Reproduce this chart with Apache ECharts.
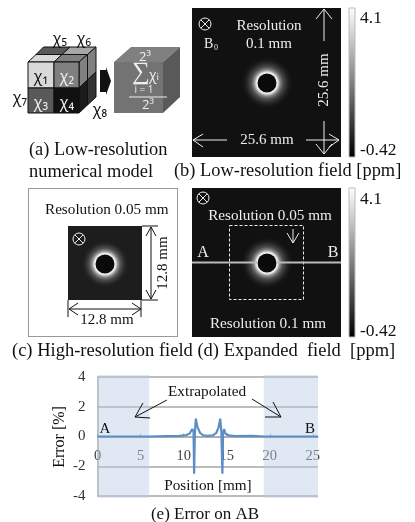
<!DOCTYPE html>
<html><head><meta charset="utf-8">
<style>html,body{margin:0;padding:0;background:#fff}#c{width:415px;height:522px}</style>
<script src="https://cdn.jsdelivr.net/npm/echarts@6/dist/echarts.min.js"></script>
</head><body><div id="c"></div>
<script>
// Error on line AB
const positionMm = [0,2,4,6,8,9.5,10.3,10.7,11.0,11.15,11.22,11.3,11.42,11.6,11.9,12.3,12.8,13.4,13.8,14.05,14.25,14.38,14.5,14.58,14.7,14.85,15.2,16,18,19.4,21,23,25.6];
const errorPct   = [0,0,0,0,0.03,0.04,0.1,0.2,0.5,0.3,-2.5,0.2,1.2,0.65,0.25,0.08,0.04,0.08,0.25,0.6,1.2,0.3,-2.5,0.2,0.5,0.2,0.08,0.03,0.04,0,0,0,0];
const extrapolatedBands = [[0,6],[19.3,26.2]];
const yTicks = [-4,-2,0,2,4];
const xTickStep = 5;
// radial brightness of the field images
const haloStops = [[0.36,'#ffffff'],[0.42,'#e0e0e0'],[0.5,'#8a8a8a'],[0.62,'#4a4a4a'],[0.78,'#262626'],[1,'rgba(20,20,20,0)']];
const colorbarStops = [[0,'#ffffff'],[0.5,'#808080'],[1,'#000000']];

const SERIF='"Liberation Serif",serif', SANS='"Open Sans","DejaVu Sans",sans-serif';
const g=[];
function T(t,x,y,o={}){g.push({type:'text',x,y,rotation:o.rot||0,z:o.z||20,style:{text:t,fill:o.c||'#111',font:(o.s||16)+'px '+(o.f||SERIF),textAlign:o.a||'left',textVerticalAlign:'middle'}});}
function R(x,y,w,h,fill,o={}){g.push({type:'rect',z:o.z||5,shape:{x,y,width:w,height:h},style:{fill,stroke:o.st||null,lineWidth:o.lw||0,lineDash:o.dash||null}});}
function P(pts,fill,o={}){g.push({type:'polygon',z:o.z||6,shape:{points:pts},style:{fill,stroke:o.st||'#111',lineWidth:o.lw===undefined?1:o.lw}});}
function PL(pts,c,lw,o={}){g.push({type:'polyline',z:o.z||15,shape:{points:pts},style:{stroke:c,lineWidth:lw,fill:null,lineDash:o.dash||null}});}
function field(x,y,w,h,cx,cy,bg,R2){
  R(x,y,w,h,bg);
  g.push({type:'circle',z:6,shape:{cx,cy,r:R2},style:{fill:new echarts.graphic.RadialGradient(0.5,0.5,0.5,haloStops.map(s=>({offset:s[0],color:s[1]})))}});
  g.push({type:'circle',z:7,shape:{cx,cy,r:9.5},style:{fill:'#0a0a0a'}});
}
function otimes(cx,cy,c){
  g.push({type:'circle',z:16,shape:{cx,cy,r:6},style:{fill:null,stroke:c,lineWidth:1}});
  PL([[cx-4.2,cy-4.2],[cx+4.2,cy+4.2]],c,1,{z:16});PL([[cx-4.2,cy+4.2],[cx+4.2,cy-4.2]],c,1,{z:16});
}
function cbar(x,y,w,h){
  g.push({type:'rect',z:5,shape:{x,y,width:w,height:h},style:{stroke:'#bbb',lineWidth:1,fill:new echarts.graphic.LinearGradient(0,0,0,1,colorbarStops.map(s=>({offset:s[0],color:s[1]})))}});
}
function arrowHead(tx,ty,a,b,c,lw){PL([a,[tx,ty],b],c,lw);}

// ---- (a) cubes
const q=(a,b,c,d,f)=>P([a,b,c,d],f);
q([28,62],[54,62],[62,54.5],[36,54.5],'#d9d9d9');
q([54,62],[79,62],[87.5,54.5],[62,54.5],'#808080');
q([36,54.5],[62,54.5],[70,47],[43.5,47],'#595959');
q([62,54.5],[87.5,54.5],[96,47],[70,47],'#a6a6a6');
q([79,62],[87.5,54.5],[87.5,80],[79,88],'#808080');
q([87.5,54.5],[96,47],[96,72],[87.5,80],'#808080');
q([79,88],[87.5,80],[87.5,105],[79,113],'#1c1c1c');
q([87.5,80],[96,72],[96,97],[87.5,105],'#333');
R(28,62,26,26,'#d9d9d9',{st:'#111',lw:1,z:6});R(54,62,25,26,'#808080',{st:'#111',lw:1,z:6});
R(28,88,26,25,'#595959',{st:'#111',lw:1,z:6});R(54,88,25,25,'#111',{st:'#111',lw:1,z:6});
T('χ₁',41,77,{a:'center',f:SANS,s:16});T('χ₂',67,77,{a:'center',f:SANS,s:16,c:'#eee'});
T('χ₃',41,103,{a:'center',f:SANS,s:16,c:'#eee'});T('χ₄',67,103,{a:'center',f:SANS,s:16,c:'#eee'});
T('χ₅',60,39,{a:'center',f:SANS,s:16});T('χ₆',84,39,{a:'center',f:SANS,s:16});
T('χ₇',20,98,{a:'center',f:SANS,s:16});T('χ₈',100,110,{a:'center',f:SANS,s:16});
P([[100,70],[106,70],[106,67],[111,81],[106,95],[106,92],[100,92]],'#111',{lw:0});
P([[114,62],[163,62],[180,47],[131,47]],'#808080',{lw:0});
P([[163,62],[180,47],[180,97],[163,113]],'#595959',{lw:0});
R(114,62,49,51,'#737373',{z:6});
T('2³',145,57,{a:'center',f:SANS,s:13,c:'#eee'});
T('∑',141,72,{a:'center',f:SERIF,s:25,c:'#eee'});
T('χᵢ',154,76,{a:'center',f:SANS,s:14,c:'#eee'});
T('i = 1',144,90,{a:'center',f:SANS,s:10,c:'#eee'});
PL([[129,97],[167,97]],'#eee',1);
T('2³',148,105,{a:'center',f:SANS,s:13,c:'#eee'});
T('(a) Low-resolution',29,150,{s:18.4});
T('numerical model',29,172,{s:18.4});

// ---- (b)
field(192,8,149,149,267,83,'#111',26);
otimes(205,24,'#eee');
T('B',204,44,{c:'#eee',s:14});T('0',214,48,{c:'#eee',s:8});
T('Resolution',269,26,{a:'center',c:'#eee',s:15});T('0.1 mm',269,44,{a:'center',c:'#eee',s:15});
T('25.6 mm',324,80,{a:'center',c:'#eee',s:15,rot:Math.PI/2});
T('25.6 mm',267,140,{a:'center',c:'#eee',s:15});
PL([[324,9],[324,41]],'#eee',1);arrowHead(324,9,[316,19],[332,19],'#eee',1);
PL([[324,121],[324,154]],'#eee',1);arrowHead(324,154,[316,144],[332,144],'#eee',1);
PL([[193,140],[227,140]],'#eee',1);arrowHead(193,140,[203,134],[203,147],'#eee',1);
PL([[306,140],[339,140]],'#eee',1);arrowHead(339,140,[329,134],[329,147],'#eee',1);
cbar(349,8,6,149);
T('4.1',360,18,{s:17.5});T('-0.42',360,150,{s:17.5});
T('(b) Low-resolution field [ppm]',174,171,{s:18.4});

// ---- (c)
g.push({type:'rect',z:4,shape:{x:28.5,y:188.5,width:149,height:148},style:{fill:null,stroke:'#333',lineWidth:1,lineDash:[1,1]}});
T('Resolution 0.05 mm',45,210,{s:15.2});
field(68,226,74,74,105,264,'#1d1d1d',26);
otimes(79,239,'#eee');
PL([[142,226],[158,226]],'#111',1);PL([[142,300],[158,300]],'#111',1);
PL([[151,227],[151,299]],'#111',1);arrowHead(151,227,[146,236],[156,236],'#111',1);arrowHead(151,299,[146,290],[156,290],'#111',1);
T('12.8 mm',163,263,{a:'center',s:15,rot:Math.PI/2});
PL([[68,300],[68,317]],'#111',1);PL([[141,300],[141,317]],'#111',1);
PL([[69,309],[141,309]],'#111',1);arrowHead(69,309,[78,303],[78,315],'#111',1);arrowHead(141,309,[132,303],[132,315],'#111',1);
T('12.8 mm',107,320,{a:'center',s:15});
T('(c) High-resolution field (d) Expanded  field  [ppm]',12,351,{s:18.5});

// ---- (d)
field(192,188,149,149,267,263,'#111',26);
otimes(203,198,'#eee');
T('Resolution 0.05 mm',270,216,{a:'center',c:'#eee',s:15.2});
T('Resolution 0.1 mm',268,324,{a:'center',c:'#eee',s:15.2});
T('A',203,253,{a:'center',c:'#eee',s:16});T('B',333,253,{a:'center',c:'#eee',s:16});
g.push({type:'rect',z:14,shape:{x:229.5,y:225.5,width:74,height:74},style:{fill:null,stroke:'#eee',lineWidth:1,lineDash:[3,2]}});
PL([[192,262.5],[258,262.5]],'#bbb',2);PL([[276,262.5],[341,262.5]],'#bbb',2);
PL([[293,229],[293,243]],'#eee',1);arrowHead(293,243,[287,233],[299,233],'#eee',1);
cbar(349,188,6,149);
T('4.1',360,199,{s:17.5});T('-0.42',360,331,{s:17.5});

// ---- (e) annotations
T('Extrapolated',207,392,{a:'center',s:15.3});
PL([[167,400],[135,417]],'#111',1);arrowHead(135,417,[150,418],[143,403],'#111',1);
PL([[252,399],[281,417]],'#111',1);arrowHead(281,417,[265,417],[273,402],'#111',1);
T('A',105,429,{a:'center',s:15});T('B',310,429,{a:'center',s:15});
T('Position [mm]',208,486,{a:'center',s:15.2});
T('Error [%]',60,437,{a:'center',s:16,rot:Math.PI/2});
T('(e) Error on AB',205,515,{a:'center',s:17});

const chart=echarts.init(document.getElementById('c'),null,{renderer:'canvas'});
chart.setOption({
  animation:false,
  grid:{left:97.5,right:415-318,top:377,bottom:522-496,containLabel:false},
  xAxis:{type:'value',min:0,max:25.6,interval:xTickStep,offset:-59.5,
    axisLine:{onZero:false,lineStyle:{color:'#aaa',width:1.5}},
    axisTick:{show:true,length:3,inside:true,lineStyle:{color:'#aaa'}},
    splitLine:{show:false},
    axisLabel:{color:'#444',fontFamily:SERIF,fontSize:14.5,margin:12,showMaxLabel:false}},
  yAxis:{type:'value',min:-4,max:4,interval:2,
    axisLine:{show:true,onZero:false,lineStyle:{color:'#aaa',width:1.5}},
    axisTick:{show:false},
    splitLine:{show:true,lineStyle:{color:'#a6a6a6',width:1.5}},
    axisLabel:{color:'#333',fontFamily:SERIF,fontSize:15,margin:12,
      customValues:yTicks}},
  series:[{type:'line',data:positionMm.map((x,i)=>[x,errorPct[i]]),showSymbol:false,smooth:false,clip:false,z:5,
    lineStyle:{color:'#5b8ec7',width:2.2},
    markArea:{silent:true,z:1,itemStyle:{color:'rgba(184,204,228,0.45)'},
      data:extrapolatedBands.map(b=>[{xAxis:b[0],y:375},{xAxis:b[1],y:498}])}}],
  graphic:{elements:g}
});
</script></body></html>
